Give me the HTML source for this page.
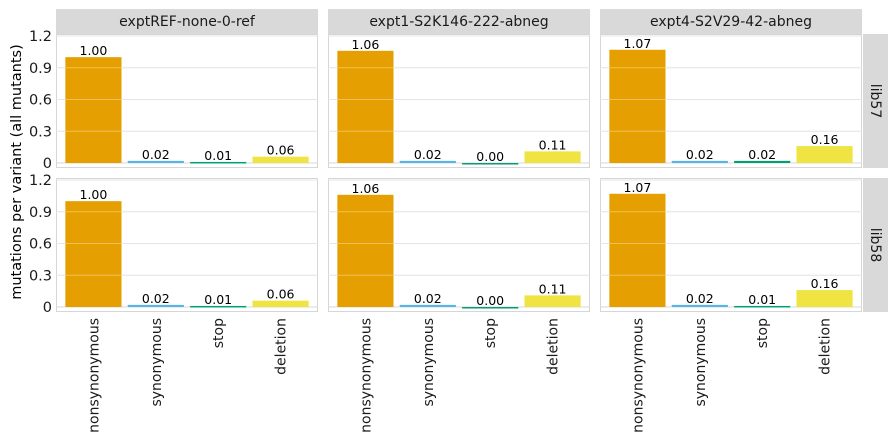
<!DOCTYPE html>
<html><head><meta charset="utf-8"><style>
body{margin:0;background:#fff}
svg{display:block;font-family:"DejaVu Sans","Liberation Sans",sans-serif}
</style></head><body>
<svg id="c" width="896" height="437" viewBox="0 0 896 437"></svg>
<script>
const categories=["nonsynonymous","synonymous","stop","deletion"];
const colors=["#E69F00","#56B4E9","#009E73","#F0E442"];
const experiments=["exptREF-none-0-ref","expt1-S2K146-222-abneg","expt4-S2V29-42-abneg"];
const libraries=["lib57","lib58"];
const lib57ref=[1.00,0.02,0.01,0.06];
const lib57expt1=[1.06,0.02,0.00,0.11];
const lib57expt4=[1.07,0.02,0.02,0.16];
const lib58ref=[1.00,0.02,0.01,0.06];
const lib58expt1=[1.06,0.02,0.00,0.11];
const lib58expt4=[1.07,0.02,0.01,0.16];
const yTicks=[0,0.3,0.6,0.9,1.2];
const yTickLabels=["0","0.3","0.6","0.9","1.2"];
const data=[[lib57ref,lib57expt1,lib57expt4],[lib58ref,lib58expt1,lib58expt4]];

const svg=document.getElementById('c');
const NS="http://www.w3.org/2000/svg";
function mk(tag,attrs,parent){const e=document.createElementNS(NS,tag);for(const k in attrs)e.setAttribute(k,attrs[k]);(parent||svg).appendChild(e);return e;}
const panelX=[56,328,600],panelW=262;
const rowTop=[34,178],panelH=134;
const zeroY=[163,307];
const yScale=(v,r)=>zeroY[r]-v*(127/1.2);
const xCenter=(i,p)=>panelX[p]+panelW*(0.6+i)/4.2;
const bw=panelW*0.9/4.2;

experiments.forEach((ex,p)=>{
  const s=mk('rect',{x:panelX[p],y:9,width:panelW,height:25,fill:'#d9d9d9'});
  
  const t=mk('text',{x:panelX[p]+panelW/2,y:26,'text-anchor':'middle','font-size':14,fill:'#1a1a1a'});
  t.textContent=ex;
});
libraries.forEach((lib,r)=>{
  const s=mk('rect',{x:863,y:rowTop[r],width:25,height:panelH,fill:'#d9d9d9'});
  
  const cx=871,cy=rowTop[r]+panelH/2;
  const t=mk('text',{x:cx,y:cy,'text-anchor':'middle','font-size':14,fill:'#1a1a1a',transform:`rotate(90 ${cx} ${cy})`});
  t.textContent=lib;
  experiments.forEach((ex,p)=>{
    const g=mk('g',{});
    
    mk('rect',{x:panelX[p]+0.5,y:rowTop[r]+0.5,width:panelW-1,height:panelH-1,fill:'#fff',stroke:'#d6d6d6'},g);
    yTicks.forEach(v=>mk('line',{x1:panelX[p],x2:panelX[p]+panelW,y1:yScale(v,r),y2:yScale(v,r),stroke:'#d9d9d9','stroke-width':1},g));
    data[r][p].forEach((v,i)=>{
      const y=yScale(v,r);
      const b=mk('rect',{x:xCenter(i,p)-bw/2,y:y,width:bw,height:Math.max(zeroY[r]-y,1.5),fill:colors[i]},g);
      
      const lt=mk('text',{x:xCenter(i,p),y:y-2,'text-anchor':'middle','font-size':12.5,fill:'#000'},g);
      lt.textContent=v.toFixed(2);
    });
    yTicks.forEach(v=>{if(v>0)mk('line',{x1:panelX[p],x2:panelX[p]+panelW,y1:yScale(v,r),y2:yScale(v,r),stroke:'#ffffff','stroke-opacity':0.35,'stroke-width':1},g);});
  });
  yTicks.forEach((v,k)=>{
    const t=mk('text',{x:52,y:yScale(v,r)+5,'text-anchor':'end','font-size':14.5,fill:'#1a1a1a'});
    t.textContent=yTickLabels[k];
  });
});
experiments.forEach((ex,p)=>{
  categories.forEach((c,i)=>{
    const x=xCenter(i,p)+5,y=318;
    const t=mk('text',{x:x,y:y,'text-anchor':'end','font-size':14,fill:'#1a1a1a',transform:`rotate(-90 ${x} ${y})`});
    t.textContent=c;
  });
});
const yt=mk('text',{x:21,y:172,'text-anchor':'middle','font-size':14.5,fill:'#000',transform:'rotate(-90 21 172)'});
yt.textContent='mutations per variant (all mutants)';


</script>
</body></html>
